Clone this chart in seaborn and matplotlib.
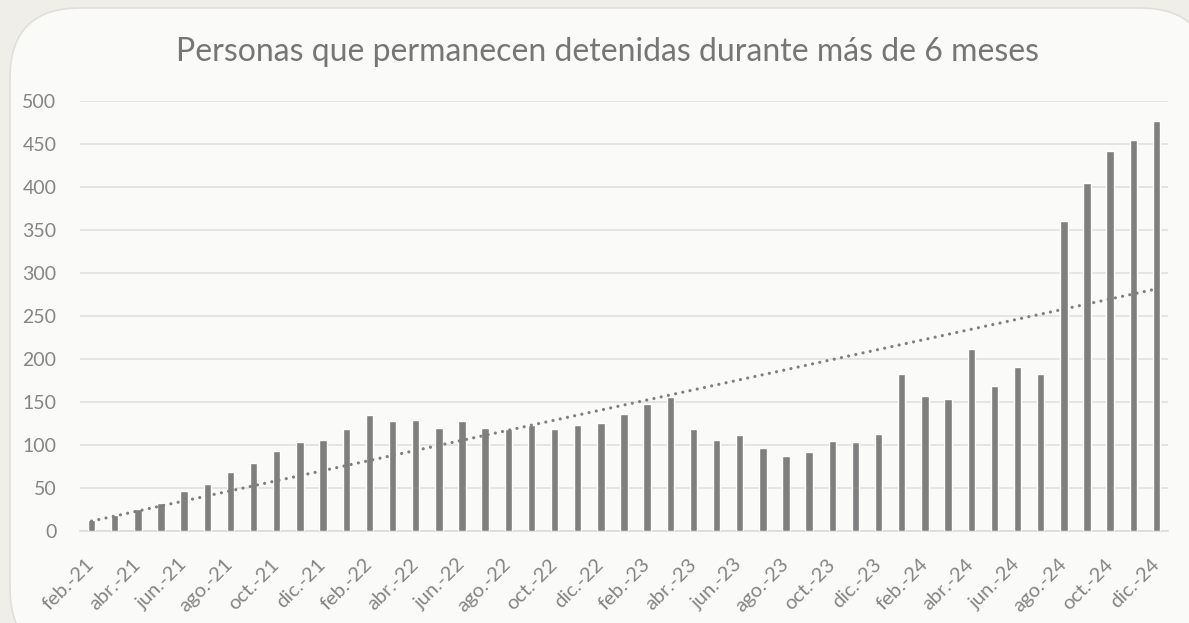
import matplotlib
matplotlib.use("Agg")
import matplotlib.pyplot as plt
from matplotlib.patches import FancyBboxPatch
import seaborn as sns
import numpy as np
import pandas as pd

# months from feb-21 to dic-24
meses = ['feb.-21', 'mar.-21', 'abr.-21', 'may.-21', 'jun.-21', 'jul.-21', 'ago.-21', 'sep.-21',
         'oct.-21', 'nov.-21', 'dic.-21', 'ene.-22', 'feb.-22', 'mar.-22', 'abr.-22', 'may.-22',
         'jun.-22', 'jul.-22', 'ago.-22', 'sep.-22', 'oct.-22', 'nov.-22', 'dic.-22', 'ene.-23',
         'feb.-23', 'mar.-23', 'abr.-23', 'may.-23', 'jun.-23', 'jul.-23', 'ago.-23', 'sep.-23',
         'oct.-23', 'nov.-23', 'dic.-23', 'ene.-24', 'feb.-24', 'mar.-24', 'abr.-24', 'may.-24',
         'jun.-24', 'jul.-24', 'ago.-24', 'sep.-24', 'oct.-24', 'nov.-24', 'dic.-24']

detenidas = [13, 19, 25, 32, 46, 55, 68, 79, 93, 103, 106, 119,
             135, 128, 129, 120, 128, 120, 119, 123, 119, 123, 125, 136,
             147, 156, 119, 106, 112, 96, 87, 92, 105, 103, 113, 182,
             157, 153, 212, 169, 191, 183, 360, 404, 441, 454, 476]

titulo = 'Personas que permanecen detenidas durante más de 6 meses'
y_ticks = [0, 50, 100, 150, 200, 250, 300, 350, 400, 450, 500]

df = pd.DataFrame({'mes': meses, 'valor': detenidas})

sns.set_style("white")
plt.rcParams['font.family'] = ['Lato', 'DejaVu Sans']

W, H = 1189, 623
fig = plt.figure(figsize=(W / 100, H / 100), dpi=100)
fig.patch.set_facecolor('#efeee8')

# rounded card behind the chart
bg = fig.add_axes([0, 0, 1, 1], zorder=0)
bg.set_xlim(0, W)
bg.set_ylim(H, 0)
bg.axis('off')
bg.add_patch(FancyBboxPatch((10, 8), 1200, 650, boxstyle="round,pad=0,rounding_size=70",
                            facecolor='#fafaf8', edgecolor='#e0dfda', linewidth=1.2))

ax = fig.add_axes([80 / W, 1 - 531 / H, 1088 / W, 430.3 / H], zorder=1)
ax.patch.set_alpha(0)

sns.barplot(data=df, x='mes', y='valor', color='#7f7f7f', width=0.32,
            saturation=1, ax=ax, zorder=3)

# linear trend line (dotted)
idx = np.arange(len(detenidas))
m, b = np.polyfit(idx, detenidas, 1)
ax.plot(idx, m * idx + b, color='#7f7f7f', linewidth=2.3,
        linestyle=(0, (0.01, 2.3)), dash_capstyle='round', zorder=4)

ax.set_xlim(-0.5, len(meses) - 0.5)
ax.set_ylim(0, 500)
ax.set_yticks(y_ticks)
ax.grid(axis='y', color='#dedede', linewidth=1.1, zorder=0)
ax.set_axisbelow(True)

ax.set_xticks(idx[::2])
ax.set_xticklabels(meses[::2], rotation=45, ha='right', va='center',
                   rotation_mode='anchor')
ax.set_xticks(np.arange(-0.5, len(meses) - 1, 2), minor=True)
ax.tick_params(axis='x', which='major', length=0, pad=22, labelsize=14.5, labelcolor='#858585')
ax.tick_params(axis='x', which='minor', length=7, width=1, color='#d9d9d9', direction='out')
ax.tick_params(axis='y', length=0, pad=17, labelsize=14, labelcolor='#858585')

for s in ['top', 'right', 'left']:
    ax.spines[s].set_visible(False)
ax.spines['bottom'].set_color('#d9d9d9')
ax.spines['bottom'].set_linewidth(1.1)
ax.set_xlabel('')
ax.set_ylabel('')

fig.text(608 / W, 1 - 61 / H, titulo, ha='center', va='baseline',
         fontsize=23, color='#767676')

fig.savefig('out.png', dpi=100, facecolor=fig.get_facecolor())
